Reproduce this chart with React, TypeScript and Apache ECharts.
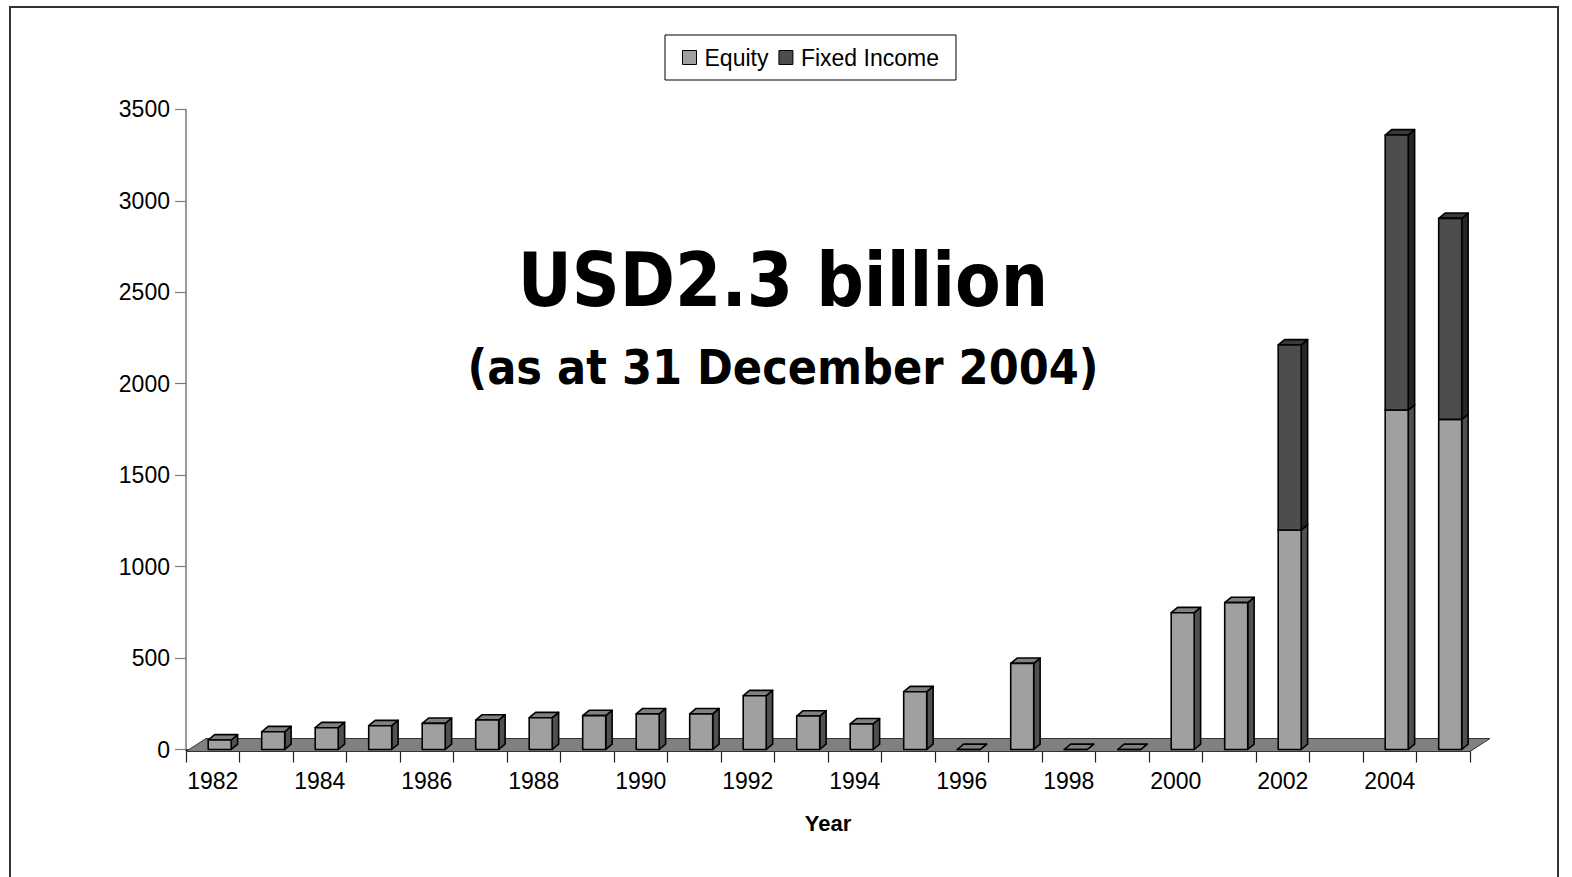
import React, { useEffect, useRef } from "react";
import * as echarts from "echarts";

const years = [
  "1982", "1983", "1984", "1985", "1986", "1987", "1988", "1989", "1990", "1991", "1992", "1993",
  "1994", "1995", "1996", "1997", "1998", "1999", "2000", "2001", "2002", "2003", "2004", "2005",
];
const equity: (number | null)[] = [
  52, 97, 119, 130, 143, 161, 174, 185, 195, 195, 294, 183,
  140, 316, 0, 471, 0, 0, 748, 803, 1200, null, 1856, 1805,
];
const fixedIncome: (number | null)[] = [
  0, 0, 0, 0, 0, 0, 0, 0, 0, 0, 0, 0,
  0, 0, 0, 0, 0, 0, 0, 0, 1012, null, 1504, 1099,
];
const yTicks = { min: 0, max: 3500, interval: 500 };
const titleMain = "USD2.3 billion";
const titleSub = "(as at 31 December 2004)";

const AXIS_FONT = 'Arial, "Liberation Sans", sans-serif';
const TITLE_FONT = '"DejaVu Sans Condensed", "DejaVu Sans", Verdana, sans-serif';

function barRenderer(front: string, side: string, top: string, skipZero: boolean) {
  return (params: any, api: any) => {
    const i = api.value(0);
    const lo = api.value(1);
    const hi = api.value(2);
    if (hi == null || isNaN(hi)) return null;
    if (skipZero && hi - lo <= 0) return null;
    const p0 = api.coord([i, lo]);
    const p1 = api.coord([i, hi]);
    const band = api.size([1, 0])[0];
    const w = band * 0.43;
    const off = band * 0.13;
    const dx = band * 0.12;
    const dy = -band * 0.1;
    const x0 = p0[0] - w / 2 + off;
    const yb = p0[1];
    const yt = p1[1];
    const stroke = { stroke: "#000", lineWidth: 1.6, lineJoin: "round" };
    return {
      type: "group",
      children: [
        {
          type: "polygon",
          shape: { points: [[x0 + w, yt], [x0 + w + dx, yt + dy], [x0 + w + dx, yb + dy], [x0 + w, yb]] },
          style: { fill: side, ...stroke },
        },
        {
          type: "polygon",
          shape: { points: [[x0, yt], [x0 + dx, yt + dy], [x0 + w + dx, yt + dy], [x0 + w, yt]] },
          style: { fill: top, ...stroke },
        },
        {
          type: "rect",
          shape: { x: x0, y: yt, width: w, height: yb - yt },
          style: { fill: front, ...stroke },
        },
      ],
    };
  };
}

export default function App() {
  const ref = useRef<HTMLDivElement>(null);
  useEffect(() => {
    if (!ref.current) return;
    const chart = echarts.init(ref.current, null, { renderer: "svg" });
    const eqData = years.map((_, i) => [i, 0, equity[i]]);
    const fiData = years.map((_, i) => {
      const e = equity[i] ?? 0;
      const f = fixedIncome[i];
      return [i, e, f == null ? null : e + f];
    });
    chart.setOption({
      animation: false,
      backgroundColor: "#fff",
      grid: { left: 186, top: 109.4, width: 1284, height: 640.1, containLabel: false },
      legend: {
        left: 665,
        top: 35,
        selectedMode: false,
        data: ["Equity", "Fixed Income"],
        icon: "rect",
        itemWidth: 14,
        itemHeight: 14,
        itemGap: 10,
        padding: [11, 17],
        borderColor: "#000",
        borderWidth: 1,
        backgroundColor: "#fff",
        textStyle: { fontFamily: AXIS_FONT, fontSize: 23, color: "#000", padding: [0, 0, 0, 3] },
        itemStyle: { borderColor: "#000", borderWidth: 1 },
      },
      xAxis: {
        type: "category",
        data: years,
        boundaryGap: true,
        name: "Year",
        nameLocation: "middle",
        nameGap: 63,
        nameTextStyle: { fontFamily: AXIS_FONT, fontSize: 22, fontWeight: "bold", color: "#000" },
        axisLine: { show: true, lineStyle: { color: "#000", width: 1.5 } },
        axisTick: { show: true, interval: 0, length: 13, lineStyle: { color: "#222", width: 1.2 } },
        axisLabel: { interval: 1, margin: 20, fontFamily: AXIS_FONT, fontSize: 23, color: "#000" },
        splitLine: { show: false },
      },
      yAxis: {
        type: "value",
        min: yTicks.min,
        max: yTicks.max,
        interval: yTicks.interval,
        axisLine: { show: true, lineStyle: { color: "#7a7a7a", width: 1.5 } },
        axisTick: { show: true, length: 11, lineStyle: { color: "#7a7a7a", width: 1.2 } },
        axisLabel: {
          margin: 16,
          fontFamily: AXIS_FONT,
          fontSize: 23,
          color: "#000",
          formatter: (v: number) => String(v),
        },
        splitLine: { show: false },
      },
      graphic: [
        {
          type: "rect",
          silent: true,
          z: -10,
          shape: { x: 10, y: 7, width: 1548, height: 900 },
          style: { fill: "none", stroke: "#333", lineWidth: 2 },
        },
        {
          type: "text",
          x: 783,
          y: 280,
          style: {
            text: titleMain,
            textAlign: "center",
            textVerticalAlign: "middle",
            font: `bold 74px ${TITLE_FONT}`,
            fill: "#000",
          },
        },
        {
          type: "text",
          x: 783,
          y: 367,
          style: {
            text: titleSub,
            textAlign: "center",
            textVerticalAlign: "middle",
            font: `bold 48px ${TITLE_FONT}`,
            fill: "#000",
          },
        },
      ],
      series: [
        {
          type: "custom",
          name: "floor",
          silent: true,
          clip: false,
          data: [[0, 0]],
          encode: { x: 0, y: 1 },
          renderItem: (params: any) => {
            const cs = params.coordSys;
            const l = cs.x;
            const r = cs.x + cs.width;
            const b = cs.y + cs.height;
            return {
              type: "polygon",
              shape: { points: [[l, b + 2], [r, b + 2], [r + 20, b - 11], [l + 20, b - 11]] },
              style: { fill: "#808080", stroke: "#333", lineWidth: 1 },
            };
          },
          z: 1,
        },
        {
          type: "custom",
          name: "Equity",
          clip: false,
          data: eqData,
          encode: { x: 0, y: [1, 2] },
          itemStyle: { color: "#a0a0a0" },
          renderItem: barRenderer("#a0a0a0", "#505050", "#808080", false),
          z: 2,
        },
        {
          type: "custom",
          name: "Fixed Income",
          clip: false,
          data: fiData,
          encode: { x: 0, y: [1, 2] },
          itemStyle: { color: "#4d4d4d" },
          renderItem: barRenderer("#4d4d4d", "#262626", "#3a3a3a", true),
          z: 3,
        },
      ],
    });
    return () => chart.dispose();
  }, []);
  return <div ref={ref} style={{ position: "absolute", left: 0, top: 0, width: 1572, height: 877 }} />;
}
